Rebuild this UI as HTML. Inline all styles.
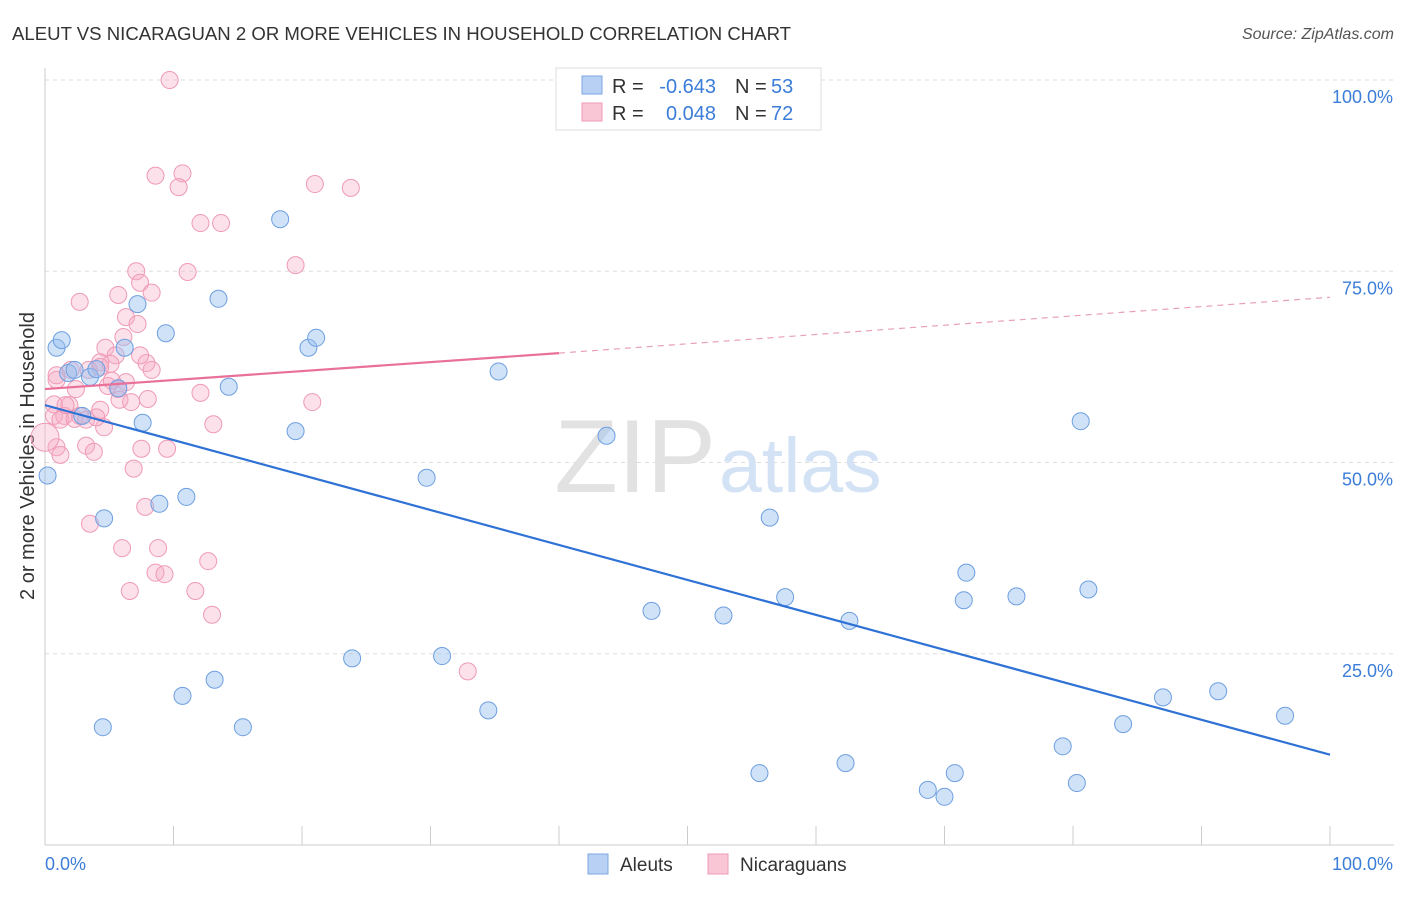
<!DOCTYPE html>
<html><head><meta charset="utf-8"><style>
body{margin:0;background:#fff;font-family:"Liberation Sans",sans-serif}
svg text{font-family:"Liberation Sans",sans-serif}
</style></head><body>
<svg id="chart" width="1406" height="892" xmlns="http://www.w3.org/2000/svg">
<text x="12" y="40" font-size="18.6" fill="#333">ALEUT VS NICARAGUAN 2 OR MORE VEHICLES IN HOUSEHOLD CORRELATION CHART</text>
<text x="1394" y="39" font-size="16" fill="#555" text-anchor="end" font-style="italic">Source: ZipAtlas.com</text>
<text x="34" y="456" font-size="20" fill="#333" text-anchor="middle" transform="rotate(-90 34 456)">2 or more Vehicles in Household</text>
<g id="grid"></g>
<text x="716" y="492" font-size="104" fill="#e2e2e2" text-anchor="end" font-family="Liberation Serif">ZIP</text>
<text x="719" y="492" font-size="77" fill="#d3e2f5">atlas</text>
<g id="pts"></g>
<g id="lines"></g>
<g>
<rect x="556" y="68" width="265" height="62" fill="#fff" stroke="#ddd"/>
<rect x="582" y="76" width="20" height="18" fill="#b7d0f3" stroke="#7ba7e6"/>
<rect x="582" y="103" width="20" height="18" fill="#f9c6d6" stroke="#ef9ab5"/>
<text x="612" y="93" font-size="20" fill="#333">R =</text>
<text x="716" y="93" font-size="20" fill="#3b7dd8" text-anchor="end">-0.643</text>
<text x="735" y="93" font-size="20" fill="#333">N =</text>
<text x="771" y="93" font-size="20" fill="#3b7dd8">53</text>
<text x="612" y="120" font-size="20" fill="#333">R =</text>
<text x="716" y="120" font-size="20" fill="#3b7dd8" text-anchor="end">0.048</text>
<text x="735" y="120" font-size="20" fill="#333">N =</text>
<text x="771" y="120" font-size="20" fill="#3b7dd8">72</text>
</g>
<g>
<rect x="588" y="854" width="20" height="20" fill="#b7d0f3" stroke="#7ba7e6"/>
<text x="620" y="871" font-size="19" fill="#333">Aleuts</text>
<rect x="708" y="854" width="20" height="20" fill="#f9c6d6" stroke="#ef9ab5"/>
<text x="740" y="871" font-size="19" fill="#333">Nicaraguans</text>
</g>
</svg>
<script>
const yTicks=[100,75,50,25];
const yTickLabels=["100.0%","75.0%","50.0%","25.0%"];
const aleutX=[0.2,0.9,1.3,1.8,2.3,2.9,3.5,4.0,4.6,4.5,5.7,6.2,7.2,7.6,8.9,9.4,10.7,11.0,13.2,13.5,14.3,15.4,18.3,19.5,20.5,21.1,23.9,29.7,30.9,34.5,35.3,43.7,47.2,52.8,55.6,56.4,57.6,62.3,62.6,68.7,70.0,70.8,71.5,71.7,75.6,79.2,80.3,80.6,81.2,83.9,87.0,91.3,96.5];
const aleutY=[48.3,65.0,66.0,61.7,62.1,56.1,61.2,62.2,42.7,15.4,59.7,65.0,70.7,55.2,44.6,66.9,19.5,45.5,21.6,71.4,59.9,15.4,81.8,54.1,65.0,66.3,24.4,48.0,24.7,17.6,61.9,53.5,30.6,30.0,9.4,42.8,32.4,10.7,29.3,7.2,6.3,9.4,32.0,35.6,32.5,12.9,8.1,55.4,33.4,15.8,19.3,20.1,16.9];
const nicX=[9.7,8.6,10.7,10.4,21.0,23.8,12.1,13.7,7.1,11.1,19.5,7.4,5.7,8.3,2.7,6.3,7.2,6.1,4.7,5.5,7.9,4.3,5.1,8.3,2.0,3.4,0.9,6.3,4.9,2.4,5.7,12.1,20.8,6.7,8.0,0.7,1.9,4.3,0.7,1.5,2.7,1.2,2.3,3.2,4.6,13.1,7.5,0.9,3.2,9.5,3.8,6.9,0,7.8,3.5,6.0,8.8,8.6,9.3,12.7,6.6,11.7,13.0,32.9,0.9,1.6,4.0,5.2,5.8,1.2,4.3,7.4];
const nicY=[100,87.5,87.8,86.0,86.4,85.9,81.3,81.3,75.0,74.9,75.8,73.5,71.9,72.2,71.0,69.0,68.1,66.4,65.0,64.0,63.0,63.1,62.9,62.1,62.1,62.1,60.8,60.5,60.0,59.6,59.6,59.1,57.9,57.9,58.3,57.6,57.5,56.9,56.1,56.1,56.1,55.6,55.7,55.6,54.6,55.0,51.8,52.0,52.2,51.8,51.4,49.2,53.3,44.2,42.0,38.8,38.8,35.6,35.4,37.1,33.2,33.2,30.1,22.7,61.4,57.5,55.9,60.7,58.2,51.0,62.5,64.0];
const X0=45,X1=1330,Y0=845,Y100=80;
const sx=v=>X0+(X1-X0)*v/100, sy=v=>Y0-(Y0-Y100)*v/100;
const NS="http://www.w3.org/2000/svg";
function mk(p,t,a){const e=document.createElementNS(NS,t);for(const k in a)e.setAttribute(k,a[k]);p.appendChild(e);return e;}
const grid=document.getElementById('grid');
yTicks.forEach((v,i)=>{
 const l=mk(grid,'line',{x1:X0,x2:1394,y1:sy(v),y2:sy(v),stroke:'#ddd','stroke-dasharray':'4 4'});
 
 
 const t=mk(grid,'text',{x:1393,y:sy(v)+23,'font-size':18,fill:'#3b7dd8','text-anchor':'end'});
 t.textContent=yTickLabels[i];
 
 
});
mk(grid,'line',{x1:X0,x2:X0,y1:68,y2:Y0,stroke:'#ccc'});
mk(grid,'line',{x1:X0,x2:1394,y1:Y0,y2:Y0,stroke:'#ccc'});
for(let i=0;i<=10;i++){const x=sx(i*10);const l=mk(grid,'line',{x1:x,x2:x,y1:Y0,y2:826,stroke:'#ccc'});
 
 }
let t=mk(grid,'text',{x:45,y:870,'font-size':18,fill:'#3b7dd8'});t.textContent='0.0%';


t=mk(grid,'text',{x:1393,y:870,'font-size':18,fill:'#3b7dd8','text-anchor':'end'});t.textContent='100.0%';


const pts=document.getElementById('pts');
nicX.forEach((v,i)=>{const c=mk(pts,'circle',{cx:sx(v),cy:sy(nicY[i]),r:i==52?14:8.5,fill:'rgba(247,170,195,0.35)',stroke:'#ef9ab5','stroke-width':1});
 
 });
aleutX.forEach((v,i)=>{const c=mk(pts,'circle',{cx:sx(v),cy:sy(aleutY[i]),r:8.5,fill:'rgba(150,190,240,0.45)',stroke:'#6d9fe0','stroke-width':1});
 
 });
const lines=document.getElementById('lines');
let l=mk(lines,'line',{x1:sx(0),y1:sy(57.5),x2:sx(100),y2:sy(11.8),stroke:'#2f72d6','stroke-width':2.2});


l=mk(lines,'line',{x1:sx(0),y1:sy(59.6),x2:sx(40),y2:sy(64.3),stroke:'#e8709a','stroke-width':2.2});


l=mk(lines,'line',{x1:sx(40),y1:sy(64.3),x2:sx(100),y2:sy(71.6),stroke:'#e8a0b8','stroke-width':1.2,'stroke-dasharray':'6 5'});


</script>
</body></html>
